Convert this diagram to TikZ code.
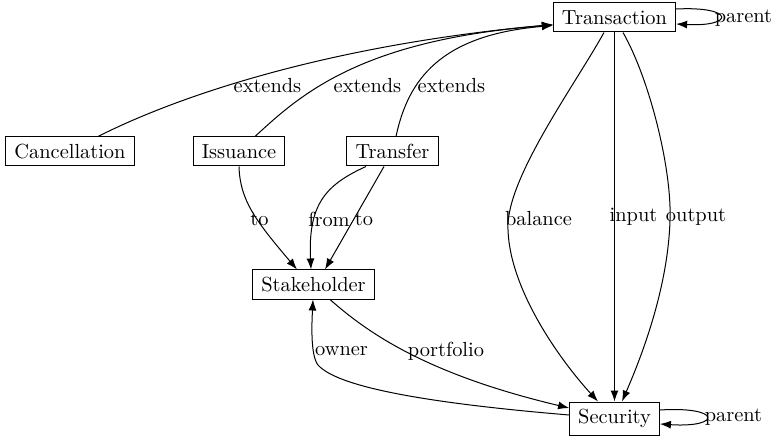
\documentclass[tikz,border=0pt]{standalone}
\usetikzlibrary{arrows.meta,calc}
\begin{document}
\begin{tikzpicture}[x=0.5pt,y=-0.5pt,
  every node/.style={font=\fontsize{10.2}{12}\selectfont},
  box/.style={draw,line width=0.5pt,inner xsep=4.3pt,inner ysep=0pt,minimum height=14.5pt},
  lbl/.style={inner sep=0pt},
  edge/.style={line width=0.5pt,-{Latex[length=5.5pt,width=4pt]}}]
\path[use as bounding box] (0,0) rectangle (776,438);

% classes
\node[box] (trans) at (614.5,17.5)  {Transaction};
\node[box] (canc)  at (70,151.5)    {Cancellation};
\node[box] (iss)   at (239,151.5)   {Issuance};
\node[box] (tfr)   at (392.5,151.5) {Transfer};
\node[box] (stake) at (313.5,284.5) {Stakeholder};
\node[box,minimum height=16.5pt] (sec) at (614.5,418.5) {Security};

% inheritance
\draw[edge] ($(canc.north)+(28,0)$) .. controls (180,95) and (330,45) .. ($(trans.west)+(0,7)$);
\draw[edge] ($(iss.north)+(16,0)$) .. controls (300,95) and (360,40) .. ($(trans.west)+(0,7.5)$);
\draw[edge] ($(tfr.north)+(3.5,0)$) .. controls (408,80) and (440,35) .. ($(trans.west)+(0,8)$);
\node[lbl] (l1) at (267.5,86) {extends};
\node[lbl] (l2) at (367.5,86) {extends};
\node[lbl] (l3) at (451.5,86) {extends};

% self references
\draw[edge] ($(trans.east)+(0,-8.5)$) .. controls (735,6) and (735,27) .. ($(trans.east)+(0,6.5)$);
\node[lbl] (l4) at (743.5,18) {parent};
\draw[edge] ($(sec.east)+(0,-8.5)$) .. controls (722,406) and (722,428) .. ($(sec.east)+(0,5.5)$);
\node[lbl] (l5) at (733.5,417) {parent};

% transaction to security
\draw[edge] ($(trans.south)+(-10.5,0)$) .. controls (575,85) and (505,180) .. (508,230)
  .. controls (510,290) and (560,360) .. ($(sec.north)+(-16.5,0)$);
\draw[edge] (trans.south) -- (sec.north);
\draw[edge] ($(trans.south)+(8.5,0)$) .. controls (650,80) and (672,170) .. (670,220)
  .. controls (668,290) and (640,360) .. ($(sec.north)+(7.5,0)$);
\node[lbl] (l6) at (538.5,219) {balance};
\node[lbl] (l7) at (633.5,217) {input};
\node[lbl] (l8) at (696,217) {output};

% stakeholder links
\draw[edge] (iss.south) .. controls (240,200) and (255,220) .. ($(stake.north)+(-16.5,0)$);
\draw[edge] ($(tfr.south)+(-26.5,0)$) .. controls (325,185) and (308,205) .. ($(stake.north)+(-2.5,0)$);
\draw[edge] ($(tfr.south)+(-8.5,0)$) -- ($(stake.north)+(11.5,0)$);
\node[lbl] (l9)  at (259.5,219) {to};
\node[lbl] (l10) at (329,219)   {from};
\node[lbl] (l11) at (364,219)   {to};

% portfolio and owner
\draw[edge] ($(stake.south)+(16.5,0)$) .. controls (370,335) and (430,375) .. ($(sec.west)+(0,-10.5)$);
\draw[edge] ($(sec.west)+(0,-3.5)$) .. controls (450,405) and (340,390) .. (318,365)
  .. controls (310,355) and (312,320) .. ($(stake.south)+(-0.5,0)$);
\node[lbl] (l12) at (341.5,351) {owner};
\node[lbl] (l13) at (446,351)   {portfolio};
\end{tikzpicture}
\end{document}
